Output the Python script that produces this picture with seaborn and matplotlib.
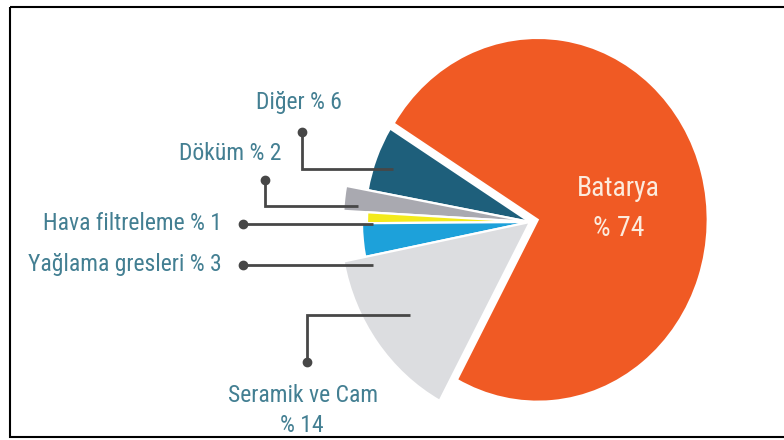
import matplotlib
matplotlib.use("Agg")
import matplotlib.pyplot as plt
import seaborn as sns
from matplotlib import font_manager
from matplotlib.patches import Rectangle

# Shares of end uses (percent), drawn counterclockwise from the top-left
categories = ["Diğer", "Döküm", "Hava filtreleme", "Yağlama gresleri", "Seramik ve Cam", "Batarya"]
shares = [6, 2, 1, 3, 14, 74]
slice_colors = ["#1E5F7B", "#A9A9B0", "#F3EA1C", "#1DA1DA", "#DCDDE0", "#F05A24"]

sns.set_theme(style="white")

# prefer a condensed face when one is installed
installed = {f.name for f in font_manager.fontManager.ttflist}
condensed = [n for n in ("Roboto Condensed", "Liberation Sans Narrow", "DejaVu Sans Condensed") if n in installed]
if condensed:
    families = [condensed[0], "DejaVu Sans"]
    size, big = 17, 20
else:
    families = ["Roboto", "DejaVu Sans"]
    size, big = 15, 18
plt.rcParams["font.family"] = families

W, H = 784, 440
fig = plt.figure(figsize=(W / 100, H / 100), dpi=100)

# Pie layer: x in pixels, y slightly stretched
STRETCH = 1.07
ax = fig.add_axes([0, 0, 1, 1])
cx, cy = 530, (H - 222) / STRETCH
wedges, _ = ax.pie(
    shares,
    colors=slice_colors,
    startangle=148,
    counterclock=True,
    radius=170,
    center=(cx, cy),
    explode=[0, 0, 0, 0, 0, 8],
    wedgeprops=dict(edgecolor="white", linewidth=1.6),
)
# each wedge gets its own reach
wedge_radii = [165, 187, 163, 168, 190, 170]
for w, r in zip(wedges, wedge_radii):
    w.set_radius(r)
ax.set_aspect("auto")
ax.set_xlim(0, W)
ax.set_ylim(0, H / STRETCH)
ax.axis("off")

# Annotation layer in pixel coordinates (y downward)
ov = fig.add_axes([0, 0, 1, 1])
ov.set_xlim(0, W)
ov.set_ylim(H, 0)
ov.axis("off")
ov.patch.set_alpha(0)

label_color = "#437F92"
line_color = "#474747"

leaders = [
    [(302, 132), (302, 169), (393, 169)],
    [(265, 180), (265, 206), (358, 206)],
    [(243, 224), (373, 224)],
    [(243, 265), (373, 265)],
    [(307, 362), (307, 315), (410, 315)],
]
for pts in leaders:
    xs = [p[0] for p in pts]
    ys = [p[1] for p in pts]
    ov.plot(xs, ys, color=line_color, lw=2.0, solid_capstyle="butt", solid_joinstyle="miter")
    ov.plot(xs[0], ys[0], "o", color=line_color, ms=6)

labels = [f"{c} % {s}" for c, s in zip(categories, shares)]
ov.text(299, 103, labels[0], ha="center", va="center", fontsize=size, color=label_color)
ov.text(281, 154, labels[1], ha="right", va="center", fontsize=size, color=label_color)
ov.text(222, 224, labels[2], ha="right", va="center", fontsize=size, color=label_color)
ov.text(222, 264, labels[3], ha="right", va="center", fontsize=size, color=label_color)
ov.text(303, 396, categories[4], ha="center", va="center", fontsize=size, color=label_color)
ov.text(302, 426, f"% {shares[4]}", ha="center", va="center", fontsize=size, color=label_color)

ov.text(618, 188, categories[5], ha="center", va="center", fontsize=big, color="#FCEBDD")
ov.text(619, 229, f"% {shares[5]}", ha="center", va="center", fontsize=big, color="#FCEBDD")

# frame around the graphic
ov.add_patch(Rectangle((10, 7), 800, 430, fill=False, edgecolor="black", lw=1.5, clip_on=False))

fig.savefig("out.png", dpi=100)
